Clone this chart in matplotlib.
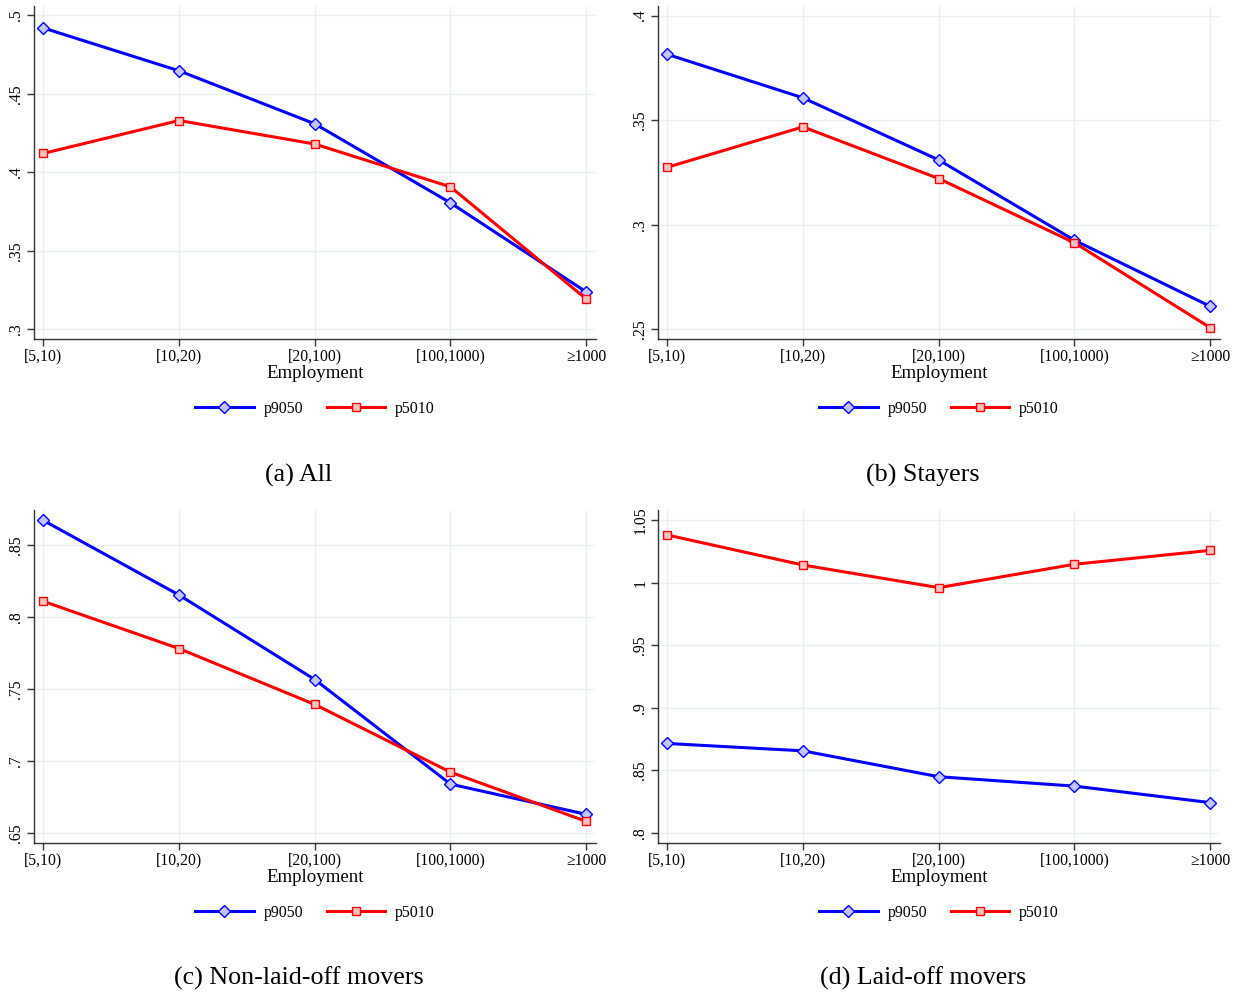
import matplotlib
matplotlib.use("Agg")
import matplotlib.pyplot as plt
from matplotlib.lines import Line2D

plt.rcParams['font.family'] = ['Liberation Serif', 'DejaVu Serif']

categories = ['[5,10)', '[10,20)', '[20,100)', '[100,1000)', '≥1000']

# (a) All
a_p9050 = [0.492, 0.4647, 0.4309, 0.3805, 0.3237]
a_p5010 = [0.412, 0.433, 0.418, 0.3907, 0.3192]
a_ticks = [0.3, 0.35, 0.4, 0.45, 0.5]

# (b) Stayers
b_p9050 = [0.3815, 0.3607, 0.331, 0.2926, 0.2610]
b_p5010 = [0.3275, 0.3468, 0.3221, 0.2914, 0.2508]
b_ticks = [0.25, 0.3, 0.35, 0.4]

# (c) Non-laid-off movers
c_p9050 = [0.8671, 0.8153, 0.7566, 0.684, 0.663]
c_p5010 = [0.8109, 0.7781, 0.7393, 0.6923, 0.6581]
c_ticks = [0.65, 0.7, 0.75, 0.8, 0.85]

# (d) Laid-off movers
d_p9050 = [0.8716, 0.8657, 0.8450, 0.8375, 0.8243]
d_p5010 = [1.0383, 1.0143, 0.9962, 1.0149, 1.026]
d_ticks = [0.8, 0.85, 0.9, 0.95, 1.0, 1.05]

captions = ['(a) All', '(b) Stayers', '(c) Non-laid-off movers', '(d) Laid-off movers']

W, H = 1239, 994
fig = plt.figure(figsize=(W / 100, H / 100), dpi=100)
fig.patch.set_facecolor('white')

grid_col = '#e8f0f2'
blue = '#0000ff'
red = '#ff0000'


def fmt(v):
    s = f"{v:g}"
    if s.startswith('0.'):
        s = s[1:]
    return s


def panel(left_px, top_px, p9050, p5010, ticks, ylim, caption, cap_y):
    right_px = left_px + 562
    bottom_px = top_px + 333
    ax = fig.add_axes([left_px / W, 1 - bottom_px / H,
                       (right_px - left_px) / W, (bottom_px - top_px) / H])
    x = list(range(len(categories)))
    ax.plot(x, p9050, color=blue, lw=2.2, marker='D', ms=6.5,
            mfc='#c4c4ff', mec=blue, mew=1, zorder=3)
    ax.plot(x, p5010, color=red, lw=2.2, marker='s', ms=6,
            mfc='#ffc0c0', mec=red, mew=1, zorder=3)
    ax.set_xlim(-0.068, 4.072)
    ax.set_ylim(*ylim)
    ax.set_xticks(x)
    ax.set_xticklabels(categories, fontsize=11.3)
    ax.set_yticks(ticks)
    ax.set_yticklabels([fmt(t) for t in ticks], fontsize=11.3,
                       rotation=90, va='center')
    ax.grid(True, color=grid_col, lw=1)
    ax.set_axisbelow(True)
    for s in ['top', 'right']:
        ax.spines[s].set_visible(False)
    for s in ['left', 'bottom']:
        ax.spines[s].set_color('#333333')
        ax.spines[s].set_linewidth(1)
    ax.tick_params(length=5, width=1, color='#333333', pad=2)
    ax.set_xlabel('Employment', fontsize=13.6, labelpad=0)

    cx = (left_px + right_px) / 2
    handles = [
        Line2D([], [], color=blue, lw=2.2, marker='D', ms=6.5,
               mfc='#c4c4ff', mec=blue, mew=1),
        Line2D([], [], color=red, lw=2.2, marker='s', ms=6,
               mfc='#ffc0c0', mec=red, mew=1),
    ]
    fig.legend(handles, ['p9050', 'p5010'], loc='center',
               bbox_to_anchor=(cx / W, 1 - (bottom_px + 70) / H),
               ncol=2, frameon=False, fontsize=11.4, handlelength=3.7,
               handletextpad=0.62, columnspacing=1.5)
    fig.text((cx - 16) / W, 1 - cap_y / H, caption, fontsize=18.7,
             ha='center', va='center')
    return ax


panel(34, 6, a_p9050, a_p5010, a_ticks, (0.2937, 0.506), captions[0], 475)
panel(658, 6, b_p9050, b_p5010, b_ticks, (0.2454, 0.4046), captions[1], 475)
panel(34, 510, c_p9050, c_p5010, c_ticks, (0.6431, 0.8743), captions[2], 978)
panel(658, 510, d_p9050, d_p5010, d_ticks, (0.792, 1.0583), captions[3], 978)

fig.savefig('out.png', dpi=100, facecolor='white')
